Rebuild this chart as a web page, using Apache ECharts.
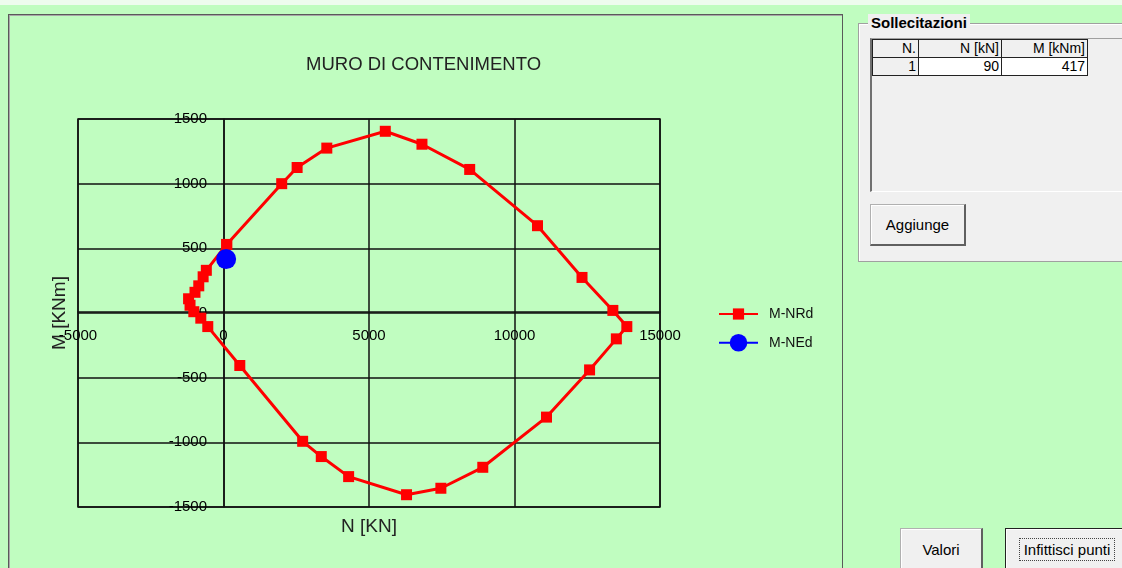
<!DOCTYPE html>
<html>
<head>
<meta charset="utf-8">
<script src="https://cdn.jsdelivr.net/npm/echarts@6/dist/echarts.min.js"></script>
<style>
  html, body { margin:0; padding:0; width:1122px; height:568px; overflow:hidden; background:#c0fdc0; font-family:"Liberation Sans", Arial, sans-serif; }
  #topstrip { position:absolute; left:0; top:0; width:1122px; height:5px; background:#eefcee; }
  #frame { position:absolute; left:8px; top:14px; width:833px; height:580px; border:1px solid #5a5a5a; box-shadow: inset 1px 1px 0 #a8a8a8; }
  #chart { position:absolute; left:0; top:0; width:1122px; height:568px; z-index:2; }
  .ui { position:absolute; z-index:3; color:#000; font-family:"Liberation Sans", Arial, sans-serif; }
  #group { left:858px; top:23px; width:280px; height:237px; background:#f0f0f0; border:1px solid #a0a0a0; box-shadow: inset 1px 1px 0 #fff; }
  #grouptitle { left:868px; top:14px; padding:0 3px; background:#f0f0f0; font-weight:bold; font-size:15px; line-height:18px; }
  #list { left:870px; top:38px; width:260px; height:152px; background:#f0f0f0; border-left:2px solid #707070; border-top:1px solid #a0a0a0; border-bottom:1px solid #fff; }
  table { position:absolute; left:872px; top:39px; border-collapse:collapse; z-index:4; font-size:14px; }
  td { border:1px solid #222; padding:0 2px; height:17px; line-height:17px; text-align:right; }
  td.h { background:#f0f0f0; }
  td.w { background:#fff; }
  .btn { background:#f0f0f0; border:1px solid #b0b0b0; border-right:2px solid #606060; border-bottom:2px solid #606060; box-shadow: inset 1px 1px 0 #fff; font-size:15px; text-align:center; box-sizing:border-box; }
  #b1 { left:870px; top:204px; width:96px; height:42px; line-height:40px; }
  #b2 { left:900px; top:528px; width:83px; height:44px; line-height:42px; }
  #b3 { left:1005px; top:528px; width:125px; height:44px; line-height:42px; border:1px solid #222; border-right:2px solid #222; border-bottom:2px solid #222; }
  #b3 span { border:1px dotted #444; padding:2px 4px; }
</style>
</head>
<body>
<div id="topstrip"></div>
<div id="frame"></div>
<div id="chart"></div>
<div class="ui" id="group"></div>
<div class="ui" id="grouptitle">Sollecitazioni</div>
<div class="ui" id="list"></div>
<table class="ui">
  <tr><td class="h" style="width:41px">N.</td><td class="h" style="width:78px">N [kN]</td><td class="h" style="width:81px">M [kNm]</td></tr>
  <tr><td class="h">1</td><td class="w">90</td><td class="w">417</td></tr>
</table>
<div class="ui btn" id="b1">Aggiunge</div>
<div class="ui btn" id="b2">Valori</div>
<div class="ui btn" id="b3"><span>Infittisci punti</span></div>
<script>
// M-NRd interaction domain (N [kN], M [kNm])
var nrdN = [110, 2000, 2530, 3550, 5560, 6820, 8460, 10790, 12320, 13380, 13860, 13500, 12580, 11100, 8910, 7470, 6290, 4300, 3360, 2720, 560, -540, -780, -1020, -1150, -1200, -980, -850, -700, -590, 110];
var nrdM = [530, 1000, 1125, 1275, 1405, 1305, 1110, 675, 275, 20, -105, -200, -440, -805, -1193, -1355, -1405, -1265, -1110, -992, -406, -105, -40, 10, 60, 110, 160, 210, 280, 330, 530];
// M-NEd design point
var nedN = [90];
var nedM = [417];

var nrdData = nrdN.map(function (n, i) { return [n, nrdM[i]]; });
var nedData = nedN.map(function (n, i) { return [n, nedM[i]]; });

function plain(v) { return String(v); }

var chart = echarts.init(document.getElementById('chart'), null, { renderer: 'canvas' });
chart.setOption({
  animation: false,
  backgroundColor: 'transparent',
  title: {
    text: 'MURO DI CONTENIMENTO',
    left: 301, top: 50,
    textStyle: { fontFamily: 'Liberation Sans', fontSize: 18.5, fontWeight: 'normal', color: '#222' }
  },
  grid: { left: 78, right: 462, top: 119, bottom: 61, containLabel: false, outerBoundsMode: 'none', show: true, borderColor: '#111', borderWidth: 1.5, backgroundColor: 'transparent' },
  legend: [
    {
      orient: 'vertical', left: 713, top: 302, itemWidth: 39, itemHeight: 14,
      textStyle: { fontFamily: 'Liberation Sans', fontSize: 14, color: '#111', padding: [0, 0, 0, 6] },
      data: ['M-NRd']
    },
    {
      orient: 'vertical', left: 713, top: 329, itemWidth: 39, itemHeight: 22,
      textStyle: { fontFamily: 'Liberation Sans', fontSize: 14, color: '#111', padding: [0, 0, 0, 6] },
      data: ['M-NEd']
    }
  ],
  xAxis: {
    type: 'value', min: -5000, max: 15000, interval: 5000,
    position: 'bottom', offset: -195,
    name: 'N [KN]', nameLocation: 'middle', nameGap: 205,
    nameTextStyle: { fontFamily: 'Liberation Sans', fontSize: 19, color: '#222' },
    axisLine: { onZero: false, lineStyle: { color: '#111', width: 1.5 } },
    axisTick: { show: false },
    axisLabel: { margin: 16, fontFamily: 'Liberation Sans', fontSize: 15, color: '#000', formatter: plain, showMinLabel: true, showMaxLabel: true },
    splitLine: { show: true, lineStyle: { color: '#111', width: 1.5 } }
  },
  yAxis: {
    type: 'value', min: -1500, max: 1500, interval: 500,
    position: 'left', offset: -146,
    name: 'M [KNm]', nameLocation: 'middle', nameGap: 155, nameRotate: 90,
    nameTextStyle: { fontFamily: 'Liberation Sans', fontSize: 19, color: '#222' },
    axisLine: { onZero: false, lineStyle: { color: '#111', width: 1.5 } },
    axisTick: { show: false },
    axisLabel: { margin: 17, fontFamily: 'Liberation Sans', fontSize: 15, color: '#000', formatter: plain },
    splitLine: { show: true, lineStyle: { color: '#111', width: 1.5 } }
  },
  series: [
    {
      name: 'M-NRd', type: 'line', data: nrdData,
      symbol: 'rect', symbolSize: 11, showAllSymbol: true,
      itemStyle: { color: '#ff0000' },
      lineStyle: { color: '#ff0000', width: 3 },
      z: 3
    },
    {
      name: 'M-NEd', type: 'line', data: nedData,
      symbol: 'circle', symbolSize: 20,
      itemStyle: { color: '#0000ff' },
      lineStyle: { color: '#0000ff', width: 3 },
      z: 4
    }
  ]
});
</script>
</body>
</html>
